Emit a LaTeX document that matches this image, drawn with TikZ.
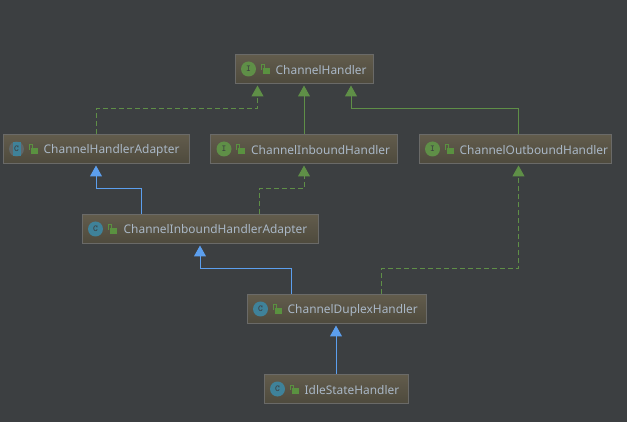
\documentclass[tikz,border=0pt]{standalone}
\usepackage{fontspec}
\setmainfont{Noto Sans}
\usepackage{xcolor}
\usetikzlibrary{arrows.meta}
\usetikzlibrary{positioning}

\definecolor{bgdark}{HTML}{3C3F41}
\definecolor{boxtop}{HTML}{625C4C}
\definecolor{boxbot}{HTML}{4E4A3D}
\definecolor{boxedge}{HTML}{6A6A68}
\definecolor{labeltxt}{HTML}{A9B7C6}
\definecolor{igreen}{HTML}{5F8F47}
\definecolor{cteal}{HTML}{3F8299}
\definecolor{lockgreen}{HTML}{5A9140}
\definecolor{inherit}{HTML}{5C9FEE}
\definecolor{absgrey}{HTML}{5F6668}

\tikzset{
    classbox/.style={draw=boxedge, line width=1pt, top color=boxtop, bottom color=boxbot, minimum height=29pt, inner sep=0pt},
    iconI/.style={circle, fill=igreen, minimum size=15pt, inner sep=0pt, text=bgdark, font=\ttfamily\bfseries\small},
    iconC/.style={circle, fill=cteal, minimum size=15pt, inner sep=0pt, text=bgdark, font=\ttfamily\bfseries\small},
    iconbar/.style={fill=cteal, minimum width=8pt, minimum height=14pt, inner sep=0pt, text=bgdark, font=\ttfamily\bfseries\small},
    iconabs/.style={circle, fill=absgrey, minimum size=15pt, inner sep=0pt},
    lockbody/.style={fill=lockgreen, minimum width=7pt, minimum height=6pt, inner sep=0pt},
    boxlabel/.style={text=labeltxt, font=\fontsize{11.9pt}{14pt}\selectfont, inner sep=0pt, anchor=west},
    realizes/.style={draw=igreen, line width=1pt, -{Triangle[length=11pt,width=12pt,fill=igreen]}, shorten >=1.5pt},
    realdash/.style={realizes, dash pattern=on 5pt off 3pt},
    extends/.style={draw=inherit, line width=1pt, -{Triangle[length=11pt,width=12pt,fill=inherit]}, shorten >=1.5pt},
    padlock/.pic={
        \node[lockbody] (-body) at (1.5,2) {};
        \draw[lockgreen, line width=1pt] (-3.5,1) -- (-3.5,-4) -- (-0.5,-4) -- (-0.5,0);
    },
}

\begin{document}
\begin{tikzpicture}[x=1pt, y=-1pt]
    \useasboundingbox[fill=bgdark] (0,0) rectangle (627,422);

    \node[classbox, minimum width=138pt] (handler) at (304,69) {};
    \node[iconI] (handlerI) at ([xshift=14pt]handler.west) {I};
    \pic (handlerL) at ([xshift=30pt]handler.west) {padlock};
    \node[boxlabel] (handlerT) at ([xshift=41pt,yshift=-1pt]handler.west) {ChannelHandler};

    \node[classbox, minimum width=186pt] (adapter) at (96,149) {};
    \node[iconabs] (adapterA) at ([xshift=14pt]adapter.west) {};
    \node[iconbar] (adapterI) at ([xshift=14pt]adapter.west) {C};
    \pic (adapterL) at ([xshift=30pt]adapter.west) {padlock};
    \node[boxlabel] (adapterT) at ([xshift=41pt,yshift=-1pt]adapter.west) {ChannelHandlerAdapter};

    \node[classbox, minimum width=187pt] (inbound) at (304,149) {};
    \node[iconI] (inboundI) at ([xshift=14pt]inbound.west) {I};
    \pic (inboundL) at ([xshift=30pt]inbound.west) {padlock};
    \node[boxlabel] (inboundT) at ([xshift=41pt,yshift=-1pt]inbound.west) {ChannelInboundHandler};

    \node[classbox, minimum width=192pt] (outbound) at (515,149) {};
    \node[iconI] (outboundI) at ([xshift=14pt]outbound.west) {I};
    \pic (outboundL) at ([xshift=30pt]outbound.west) {padlock};
    \node[boxlabel] (outboundT) at ([xshift=41pt,yshift=-1pt]outbound.west) {ChannelOutboundHandler};

    \node[classbox, minimum width=236pt] (inadapter) at (200,229) {};
    \node[iconC] (inadapterI) at ([xshift=14pt]inadapter.west) {C};
    \pic (inadapterL) at ([xshift=30pt]inadapter.west) {padlock};
    \node[boxlabel] (inadapterT) at ([xshift=42pt,yshift=-1pt]inadapter.west) {ChannelInboundHandlerAdapter};

    \node[classbox, minimum width=179pt] (duplex) at (336.5,309) {};
    \node[iconC] (duplexI) at ([xshift=14pt]duplex.west) {C};
    \pic (duplexL) at ([xshift=30pt]duplex.west) {padlock};
    \node[boxlabel] (duplexT) at ([xshift=41pt,yshift=-1pt]duplex.west) {ChannelDuplexHandler};

    \node[classbox, minimum width=144pt] (idle) at (336,389) {};
    \node[iconC] (idleI) at ([xshift=14pt]idle.west) {C};
    \pic (idleL) at ([xshift=30pt]idle.west) {padlock};
    \node[boxlabel] (idleT) at ([xshift=41pt,yshift=-1pt]idle.west) {IdleStateHandler};

    % interface arrows
    \draw[realdash] (adapter.north) -- ++(0,-25) -| ([xshift=-46.5pt]handler.south);
    \draw[realizes] (inbound.north) -- (handler.south);
    \draw[realizes] ([xshift=3.5pt]outbound.north) -- ++(0,-25) -| ([xshift=47pt]handler.south);
    \draw[realdash] ([xshift=59pt]inadapter.north) -- ++(0,-25) -| (inbound.south);
    \draw[realdash] ([xshift=44.5pt]duplex.north) -- ++(0,-25) -| ([xshift=3.5pt]outbound.south);

    % class arrows
    \draw[extends] ([xshift=-59pt]inadapter.north) -- ++(0,-25) -| (adapter.south);
    \draw[extends] ([xshift=-45.5pt]duplex.north) -- ++(0,-25) -| (inadapter.south);
    \draw[extends] (idle.north) -- (duplex.south -| idle.north);
\end{tikzpicture}
\end{document}
